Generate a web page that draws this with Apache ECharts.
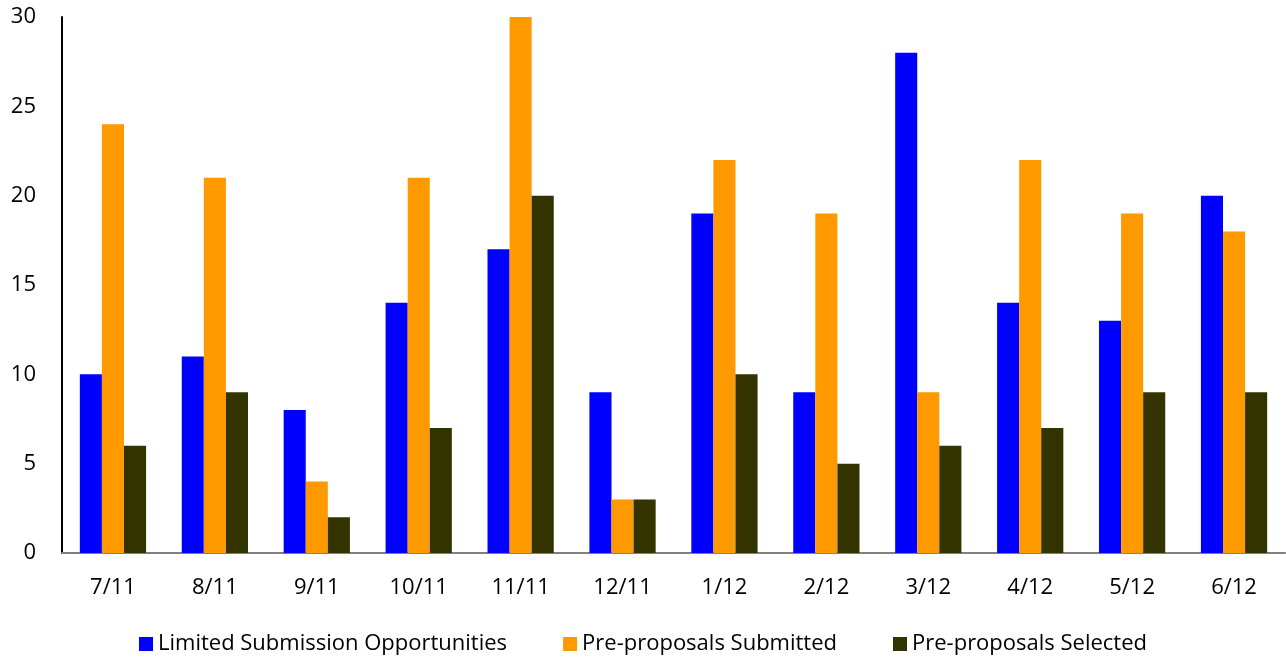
<!DOCTYPE html>
<html>
<head>
<meta charset="utf-8">
<script src="https://cdn.jsdelivr.net/npm/echarts@6/dist/echarts.min.js"></script>
<style>
  html, body { margin: 0; padding: 0; background: #fff; }
  #chart { width: 1286px; height: 661px; }
</style>
</head>
<body>
<div id="chart"></div>
<script>
const months = ['7/11', '8/11', '9/11', '10/11', '11/11', '12/11', '1/12', '2/12', '3/12', '4/12', '5/12', '6/12'];
const limitedOpps = [10, 11, 8, 14, 17, 9, 19, 9, 28, 14, 13, 20];
const submitted = [24, 21, 4, 21, 30, 3, 22, 19, 9, 22, 19, 18];
const selected = [6, 9, 2, 7, 20, 3, 10, 5, 6, 7, 9, 9];

const font = '"Open Sans", "Noto Sans", sans-serif';

function bar(name, data, color) {
    return {
        name: name,
        type: 'bar',
        data: data,
        barGap: '0%',
        barCategoryGap: '35%',
        itemStyle: { color: color }
    };
}

const option = {
    animation: false,
    textStyle: { fontFamily: font },
    grid: { left: 62, right: 1, top: 17, bottom: 108 },
    legend: {
        bottom: 1,
        left: 'center',
        itemWidth: 14,
        itemHeight: 14,
        itemGap: 56,
        icon: 'rect',
        textStyle: { fontSize: 22, color: '#000', fontFamily: font }
    },
    xAxis: {
        type: 'category',
        data: months,
        axisLine: { lineStyle: { color: '#808080', width: 2 } },
        axisTick: { show: false },
        axisLabel: { fontSize: 22, color: '#000', margin: 24, fontFamily: font }
    },
    yAxis: {
        type: 'value',
        min: 0,
        max: 30,
        interval: 5,
        splitLine: { show: false },
        axisLine: { show: true, lineStyle: { color: '#000', width: 2 } },
        axisTick: { show: false },
        axisLabel: { fontSize: 22, color: '#000', margin: 26, fontFamily: font }
    },
    series: [
        bar('Limited Submission Opportunities', limitedOpps, '#0000ff'),
        bar('Pre-proposals Submitted', submitted, '#ff9900'),
        bar('Pre-proposals Selected', selected, '#333300')
    ]
};

const chart = echarts.init(document.getElementById('chart'));
chart.setOption(option);
</script>
</body>
</html>
